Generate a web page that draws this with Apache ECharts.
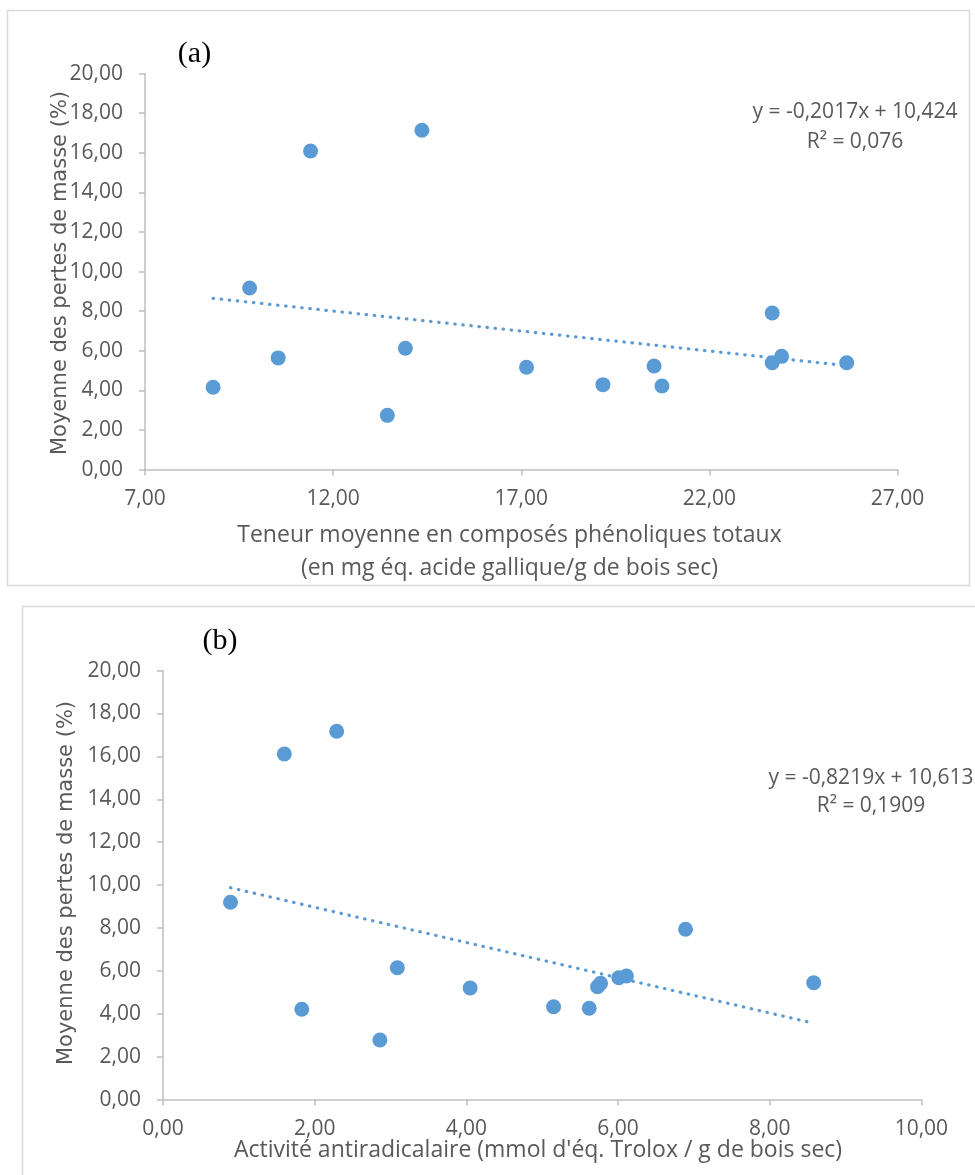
<!DOCTYPE html>
<html>
<head>
<meta charset="utf-8">
<script src="https://cdn.jsdelivr.net/npm/echarts@6/dist/echarts.min.js"></script>
<style>
html,body{margin:0;padding:0;background:#fff;}
#c{width:975px;height:1175px;}
</style>
</head>
<body>
<div id="c"></div>
<script>
// Panel (a): total phenolic content vs mean mass loss
const phenolA = [8.81, 9.78, 10.54, 11.40, 13.44, 13.92, 14.36, 17.14, 19.17, 20.53, 20.74, 23.67, 23.67, 23.92, 25.65];
const lossA   = [4.16, 9.17, 5.64, 16.09, 2.74, 6.13, 17.14, 5.17, 4.29, 5.23, 4.22, 7.91, 5.40, 5.72, 5.40];
const trendA  = [[8.81, 8.65], [25.65, 5.25]];
// Panel (b): antiradical activity vs mean mass loss
const activityB = [0.89, 1.60, 2.29, 1.83, 2.86, 3.09, 4.05, 5.15, 5.62, 5.73, 5.77, 6.01, 6.11, 6.89, 8.58];
const lossB     = [9.20, 16.11, 17.17, 4.21, 2.78, 6.15, 5.20, 4.33, 4.26, 5.26, 5.42, 5.68, 5.76, 7.94, 5.45];
const trendB    = [[0.89, 9.88], [8.58, 3.56]];

const yTitle = "Moyenne des pertes de masse (%)";
const xTitleA1 = "Teneur moyenne en composés phénoliques totaux";
const xTitleA2 = "(en mg éq. acide gallique/g de bois sec)";
const xTitleB = "Activité antiradicalaire (mmol d'éq. Trolox / g de bois sec)";
const eqA = ["y = -0,2017x + 10,424", "R² = 0,076"];
const eqB = ["y = -0,8219x + 10,613", "R² = 0,1909"];

const TXT = '#595959';
const AX = '#bfbfbf';
const BLUE = '#5B9BD5';
const SANS = "'Open Sans', 'Liberation Sans', sans-serif";
const fmt = v => v.toFixed(2).replace('.', ',');

function xAxis(grid, min, max, interval){
  return {
    type:'value', gridIndex:grid, min:min, max:max, interval:interval,
    axisLine:{show:true, lineStyle:{color:AX, width:1.5}},
    axisTick:{show:true, length:6, lineStyle:{color:AX, width:1.5}},
    splitLine:{show:false},
    axisLabel:{color:TXT, fontFamily:SANS, fontSize:21, margin:19, formatter:fmt}
  };
}
function yAxis(grid){
  return {
    type:'value', gridIndex:grid, min:0, max:20, interval:2,
    axisLine:{show:true, lineStyle:{color:AX, width:1.5}},
    axisTick:{show:true, length:6, lineStyle:{color:AX, width:1.5}},
    splitLine:{show:false},
    axisLabel:{color:TXT, fontFamily:SANS, fontSize:21, margin:22, formatter:fmt}
  };
}
function scatter(idx, xs, ys){
  return {
    type:'scatter', xAxisIndex:idx, yAxisIndex:idx,
    data: xs.map((x,i)=>[x, ys[i]]),
    symbol:'circle', symbolSize:15,
    itemStyle:{color:BLUE, opacity:1},
    z:3
  };
}
function trend(idx, pts){
  return {
    type:'line', xAxisIndex:idx, yAxisIndex:idx, data:pts, showSymbol:false, symbol:'none',
    lineStyle:{color:BLUE, width:3.2, type:[0.5, 7.6], cap:'round'}, z:2
  };
}
function txt(x, y, s, size, opts){
  return Object.assign({
    type:'text', x:x, y:y, z:10,
    style:{text:s, fill:TXT, font: size + 'px ' + SANS, textAlign:'center', textVerticalAlign:'middle'}
  }, opts || {});
}

const chart = echarts.init(document.getElementById('c'), null, {renderer:'canvas'});
chart.setOption({
  animation:false,
  backgroundColor:'#fff',
  grid:[
    {left:145, top:73.6, width:752.5, height:396},
    {left:163, top:670.6, width:758.4, height:429}
  ],
  xAxis:[xAxis(0, 7, 27, 5), xAxis(1, 0, 10, 2)],
  yAxis:[yAxis(0), yAxis(1)],
  series:[
    trend(0, trendA), scatter(0, phenolA, lossA),
    trend(1, trendB), scatter(1, activityB, lossB)
  ],
  graphic:[
    {type:'rect', shape:{x:7.5, y:10.5, width:962, height:575}, style:{fill:'none', stroke:'#d9d9d9', lineWidth:1.5}, z:0},
    {type:'rect', shape:{x:22.5, y:606.5, width:965, height:590}, style:{fill:'none', stroke:'#d9d9d9', lineWidth:1.5}, z:0},
    {type:'text', x:194.5, y:54, z:10, style:{text:'(a)', fill:'#000', font:"30px 'Liberation Serif', serif", textAlign:'center', textVerticalAlign:'middle'}},
    {type:'text', x:220, y:641, z:10, style:{text:'(b)', fill:'#000', font:"30px 'Liberation Serif', serif", textAlign:'center', textVerticalAlign:'middle'}},
    {type:'text', x:61, y:273, rotation:Math.PI/2, z:10, style:{text:yTitle, fill:TXT, font:"21px 'DejaVu Sans', sans-serif", textAlign:'center', textVerticalAlign:'middle'}},
    {type:'text', x:67, y:883, rotation:Math.PI/2, z:10, style:{text:yTitle, fill:TXT, font:"21px 'DejaVu Sans', sans-serif", textAlign:'center', textVerticalAlign:'middle'}},
    txt(509.5, 535, xTitleA1, 23),
    txt(509.5, 568, xTitleA2, 23),
    txt(538, 1150, xTitleB, 23),
    txt(855, 112, eqA[0], 21),
    txt(855, 142, eqA[1], 21),
    txt(871, 778, eqB[0], 21),
    txt(871, 806, eqB[1], 21)
  ]
});
</script>
</body>
</html>
